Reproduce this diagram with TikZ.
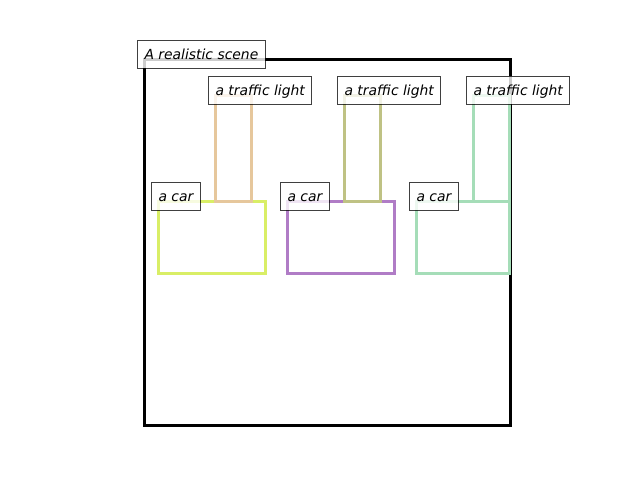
\documentclass[tikz,border=0pt]{standalone}
\usepackage{fontspec}
\setmainfont{DejaVu Sans}
\begin{document}
\begin{tikzpicture}[x=1pt,y=-1pt,
  lbl/.style={draw=black,draw opacity=0.75,fill=white,fill opacity=0.8,text opacity=1,
    line width=1pt,anchor=base west,xshift=-7pt,inner xsep=7pt,inner ysep=7pt,
    text height=12pt,text depth=2pt,font=\fontsize{13.9pt}{16pt}\selectfont\itshape},
  box/.style={line width=3pt,line join=miter}]
\useasboundingbox (0,0) rectangle (640,480);
\definecolor{tlA}{HTML}{E6C79C}
\definecolor{carA}{HTML}{D9EE66}
\definecolor{carB}{HTML}{B07CC6}
\definecolor{tlB}{HTML}{BFC284}
\definecolor{carC}{HTML}{A5DDB8}
\draw[box,black] (144,59) rectangle (510,425);
% cars
\draw[box,carA] (158,201) rectangle (265,273);
\draw[box,carB] (287,201) rectangle (394,273);
\draw[box,carC] (416,201) rectangle (509,273);
% traffic lights
\draw[box,tlA] (215,95) rectangle (251,201);
\draw[box,tlB] (344,95) rectangle (380,201);
\draw[box,carC] (473,95) rectangle (509,201);
% labels
\node[lbl] (scene) at (144,59) {A realistic scene};
\node[lbl] (tl1) at (215,95) {a traffic light};
\node[lbl] (tl2) at (344,95) {a traffic light};
\node[lbl] (tl3) at (473,95) {a traffic light};
\node[lbl] (car1) at (158,201) {a car};
\node[lbl] (car2) at (287,201) {a car};
\node[lbl] (car3) at (416,201) {a car};
\end{tikzpicture}
\end{document}
